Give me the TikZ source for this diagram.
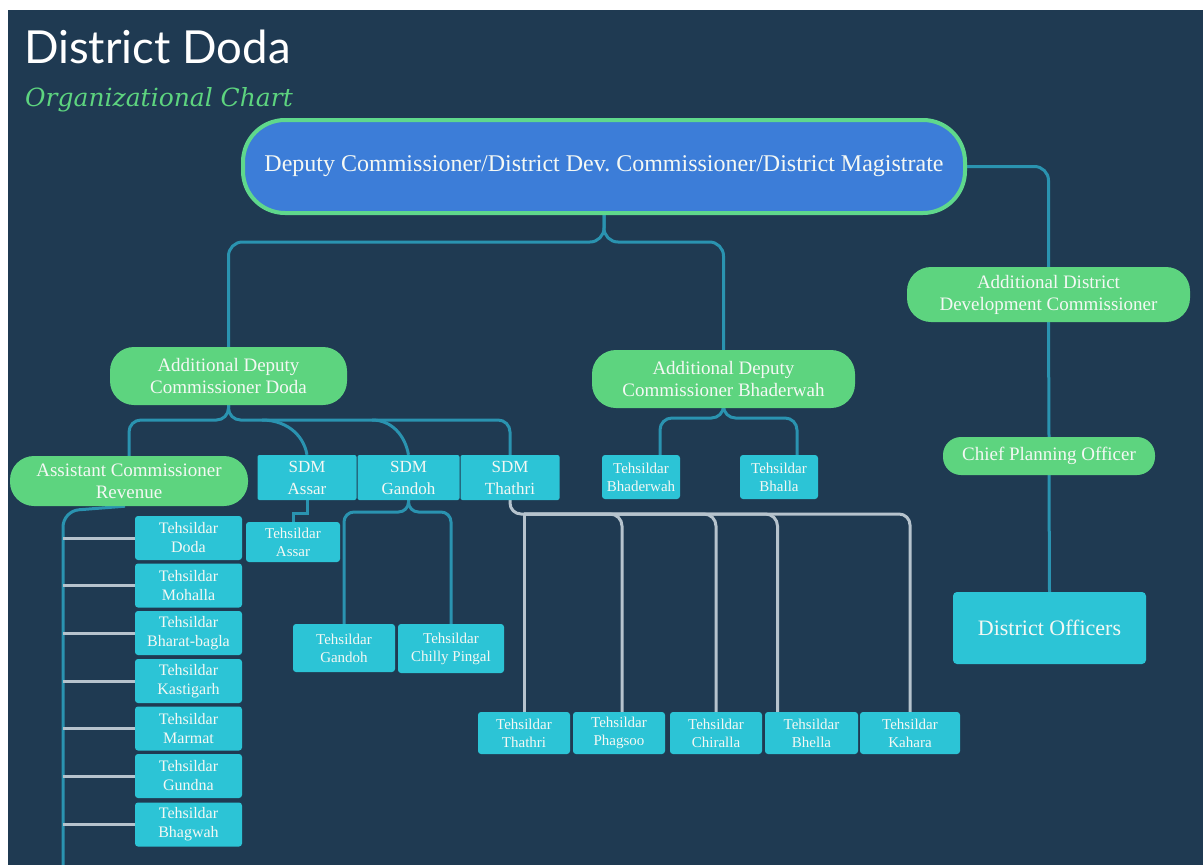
\documentclass[tikz,border=0pt]{standalone}
\usepackage{fontspec}
\setmainfont{Liberation Serif}
\newfontfamily\latofont{Lato}
\newfontfamily\subfont{DejaVu Serif}
\frenchspacing
\definecolor{bgc}{HTML}{1F3A52}
\definecolor{grn}{HTML}{5DD47F}
\definecolor{grnb}{HTML}{5FD88C}
\definecolor{blu}{HTML}{3C7DD8}
\definecolor{cyn}{HTML}{2CC4D6}
\definecolor{tealc}{HTML}{2A93B0}
\definecolor{grayc}{HTML}{B6C3CD}
\definecolor{txt}{HTML}{F4F8F4}
\pgfdeclarelayer{bglayer}
\pgfdeclarelayer{lines}
\pgfsetlayers{bglayer,lines,main}
\tikzset{
  pill/.style={fill=grn, text=txt, align=center, inner sep=0pt, rounded corners=24pt, font=\fontsize{19}{22}\selectfont},
  tbox/.style={fill=cyn, text=txt, align=center, inner sep=0pt, rounded corners=3pt, font=\fontsize{15}{18}\selectfont},
  lbox/.style={tbox, minimum width=107pt, minimum height=44pt, font=\fontsize{16}{19}\selectfont},
  sdm/.style={tbox, rounded corners=2pt, minimum height=45pt, font=\fontsize{17}{22}\selectfont},
  conn/.style={draw=tealc, line width=3pt},
  gconn/.style={draw=grayc, line width=3pt},
}
\begin{document}
\begin{tikzpicture}[x=1pt,y=-1pt]
\useasboundingbox (0,0) rectangle (1203,865);
\begin{pgfonlayer}{bglayer}
\fill[white] (0,0) rectangle (1203,865);
\fill[bgc] (8,10) rectangle (1203,865);
\end{pgfonlayer}

% titles
\node[anchor=base west, text=white, font=\latofont\fontsize{45.5}{48}\selectfont, inner sep=0pt] (title) at (24,63) {District Doda};
\node[anchor=base west, text=grn, font=\subfont\itshape\fontsize{25}{28}\selectfont, inner sep=0pt] (subtitle) at (25,106) {Organizational Chart};

% helper levels
\coordinate (Y242) at (0,242);
\coordinate (Y420) at (0,420);
\coordinate (Y418) at (0,418);
\coordinate (Y512) at (0,512);
\coordinate (Y514) at (0,514);

% nodes
\node[fill=blu, draw=grnb, line width=4pt, rounded corners=42pt, text=txt, inner sep=0pt,
      minimum width=722pt, minimum height=93pt, font=\fontsize{24}{26}\selectfont] (dc) at (604,166.5)
      {Deputy Commissioner/District Dev. Commissioner/District Magistrate};

\node[pill, minimum width=283pt, minimum height=55pt] (addc) at (1048.5,294.5) {Additional District\\Development Commissioner};
\node[pill, rounded corners=18pt, minimum width=212pt, minimum height=38pt] (cpo) at (1049,456) {Chief Planning Officer};
\node[tbox, rounded corners=4pt, minimum width=193pt, minimum height=72pt, font=\fontsize{22}{24}\selectfont] (do) at (1049.5,628) {District Officers};

\node[pill, minimum width=237pt, minimum height=58pt] (adcd) at (228.5,376) {Additional Deputy\\Commissioner Doda};
\node[pill, minimum width=263pt, minimum height=58pt] (adcb) at (723.5,379) {Additional Deputy\\Commissioner Bhaderwah};
\node[pill, minimum width=238pt, minimum height=50pt] (acr) at (129,481) {Assistant Commissioner\\Revenue};

\node[sdm, minimum width=99pt] (sdma) at (307,477.5) {SDM\\Assar};
\node[sdm, minimum width=102pt] (sdmg) at (408.5,477.5) {SDM\\Gandoh};
\node[sdm, minimum width=99pt] (sdmt) at (510,477.5) {SDM\\Thathri};

\node[tbox, minimum width=94pt, minimum height=40pt] (ta) at (293,542) {Tehsildar\\Assar};
\node[tbox, minimum width=102pt, minimum height=48pt] (tg) at (344,648) {Tehsildar\\Gandoh};
\node[tbox, minimum width=106pt, minimum height=49pt] (tcp) at (451,648.5) {Tehsildar\\Chilly Pingal};

\node[tbox, minimum width=92pt, minimum height=42pt] (tt) at (524,733) {Tehsildar\\Thathri};
\node[tbox, minimum width=92pt, minimum height=42pt] (tp) at (619,733) {Tehsildar\\Phagsoo};
\node[tbox, minimum width=92pt, minimum height=42pt] (tc) at (716,733) {Tehsildar\\Chiralla};
\node[tbox, minimum width=93pt, minimum height=42pt] (tbe) at (811.5,733) {Tehsildar\\Bhella};
\node[tbox, minimum width=100pt, minimum height=42pt] (tk) at (910,733) {Tehsildar\\Kahara};

\node[tbox, minimum width=78pt, minimum height=44pt] (tbh) at (641,477) {Tehsildar\\Bhaderwah};
\node[tbox, minimum width=78pt, minimum height=44pt] (tbl) at (779,477) {Tehsildar\\Bhalla};

\node[lbox] (td1) at (188.5,538) {Tehsildar\\Doda};
\node[lbox] (td2) at (188.5,585.5) {Tehsildar\\Mohalla};
\node[lbox] (td3) at (188.5,633) {Tehsildar\\Bharat-bagla};
\node[lbox] (td4) at (188.5,681) {Tehsildar\\Kastigarh};
\node[lbox] (td5) at (188.5,728.5) {Tehsildar\\Marmat};
\node[lbox] (td6) at (188.5,776) {Tehsildar\\Gundna};
\node[lbox] (td7) at (188.5,824.5) {Tehsildar\\Bhagwah};

\begin{pgfonlayer}{lines}
% DC branches
\draw[conn, rounded corners=14pt] (dc.south) |- (adcd.north |- Y242) -- (adcd.north);
\draw[conn, rounded corners=14pt] (dc.south) |- (adcb.north |- Y242) -- (adcb.north);
\draw[conn, rounded corners=14pt] (dc.east) -| (addc.north);
\draw[conn] (addc.south) -- (cpo.north);
\draw[conn] (cpo.south) -- (do.north);

% ADC Doda branches
\coordinate (ka) at (262,420);
\coordinate (kg) at (372,420);
\draw[conn, rounded corners=12pt] (adcd.south) |- (acr.north |- Y420) -- (acr.north);
\draw[conn, rounded corners=12pt] (adcd.south) |- (sdmt.north |- Y420) -- (sdmt.north);
\draw[conn] (ka) to[out=0,in=100] (sdma.north);
\draw[conn] (kg) to[out=0,in=100] (sdmg.north);

% SDM Assar
\draw[conn] (sdma.south) -- ++(0,13) -| (ta.north);
% SDM Gandoh
\draw[conn, rounded corners=10pt] (sdmg.south) |- (tg.north |- Y512) -- (tg.north);
\draw[conn, rounded corners=10pt] (sdmg.south) |- (tcp.north |- Y512) -- (tcp.north);

% SDM Thathri (grey)
\draw[gconn, rounded corners=11pt] (sdmt.south) |- (tk.north |- Y514) -- (tk.north);
\draw[gconn] (tt.north |- Y514) -- (tt.north);
\draw[gconn, rounded corners=12pt] (tt.north |- Y514) -| ([xshift=3pt]tp.north);
\draw[gconn, rounded corners=12pt] (tt.north |- Y514) -| (tc.north);
\draw[gconn, rounded corners=12pt] (tt.north |- Y514) -| ([xshift=-34pt]tbe.north);

% ADC Bhaderwah
\draw[conn, rounded corners=12pt] (adcb.south) |- ([xshift=19pt]tbh.north |- Y418) -- ([xshift=19pt]tbh.north);
\draw[conn, rounded corners=12pt] (adcb.south) |- ([xshift=18pt]tbl.north |- Y418) -- ([xshift=18pt]tbl.north);

% ACR spine
\coordinate (vx) at (63,511);
\coordinate (vb) at (63,865);
\draw[conn, rounded corners=16pt] ([xshift=-4pt]acr.south) -- (vx) -- (vb);
\foreach \n in {td1,td2,td3,td4,td5,td6,td7}{
  \draw[gconn] (\n.west -| vb) -- (\n.west);
}
\end{pgfonlayer}
\end{tikzpicture}
\end{document}
